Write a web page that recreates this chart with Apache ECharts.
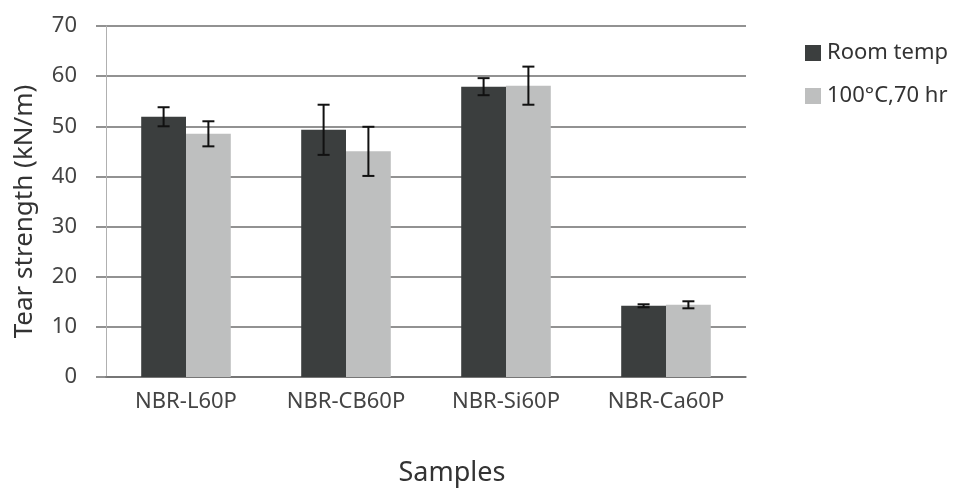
<!DOCTYPE html>
<html>
<head>
<meta charset="utf-8">
<script src="https://cdn.jsdelivr.net/npm/echarts@6/dist/echarts.min.js"></script>
<style>
  html, body { margin: 0; padding: 0; background: #fff; }
  #chart { width: 956px; height: 495px; }
</style>
</head>
<body>
<div id="chart"></div>
<script>
// Tear strength of NBR compounds, before and after ageing
const categories = ['NBR-L60P', 'NBR-CB60P', 'NBR-Si60P', 'NBR-Ca60P'];
const seriesNames = ['Room temp', '100°C,70 hr'];
const roomTemp = [51.9, 49.3, 57.9, 14.2];
const roomTempErr = [1.9, 5.0, 1.7, 0.3];
const aged = [48.5, 45.0, 58.1, 14.4];
const agedErr = [2.5, 4.9, 3.8, 0.7];
const yTicks = [0, 10, 20, 30, 40, 50, 60, 70];

const FONT = '"Noto Sans", "Open Sans", sans-serif';
const BAR_FRACTION = 0.28;   // share of a category band taken by each bar

// Error bar drawn as a vertical whisker with caps, shifted to sit on its bar
function errorRenderer(values, errors, side) {
  return function (params, api) {
    const i = api.value(0);
    const v = values[i], e = errors[i];
    const band = api.size([1, 0])[0];
    const dx = side * band * BAR_FRACTION / 2;
    const top = api.coord([i, v + e]);
    const bot = api.coord([i, v - e]);
    const x = top[0] + dx;
    const cap = 6;
    const style = { stroke: '#111', lineWidth: 2 };
    return {
      type: 'group',
      children: [
        { type: 'line', shape: { x1: x, y1: top[1], x2: x, y2: bot[1] }, style },
        { type: 'line', shape: { x1: x - cap, y1: top[1], x2: x + cap, y2: top[1] }, style },
        { type: 'line', shape: { x1: x - cap, y1: bot[1], x2: x + cap, y2: bot[1] }, style }
      ]
    };
  };
}

const chart = echarts.init(document.getElementById('chart'));
chart.setOption({
  animation: false,
  backgroundColor: '#fff',
  title: {
    text: 'Samples',
    left: 447,
    top: 455,
    textAlign: 'center',
    textStyle: { fontFamily: FONT, fontSize: 27, fontWeight: 'normal', color: '#333' }
  },
  legend: {
    orient: 'vertical',
    left: 800,
    top: 37,
    itemWidth: 16,
    itemHeight: 16,
    itemGap: 21,
    icon: 'rect',
    data: seriesNames,
    textStyle: { fontFamily: FONT, fontSize: 22, color: '#333', padding: [0, 0, 0, 1] }
  },
  grid: { left: 106, right: 210, top: 26, bottom: 118 },
  xAxis: {
    type: 'category',
    data: categories,
    axisLine: { show: true, lineStyle: { color: '#6e6e6e', width: 1.5 } },
    axisTick: { show: false },
    axisLabel: { fontFamily: FONT, fontSize: 22, color: '#444', margin: 14 }
  },
  yAxis: {
    type: 'value',
    min: 0,
    max: 70,
    interval: 10,
    name: 'Tear strength (kN/m)',
    nameLocation: 'middle',
    nameGap: 68,
    nameTextStyle: { fontFamily: FONT, fontSize: 26, color: '#333', padding: [0, 20, 0, 0] },
    axisLine: { show: true, lineStyle: { color: '#b0b0b0', width: 1 } },
    axisTick: { show: true, inside: false, length: 10, lineStyle: { color: '#6e6e6e', width: 1.5 } },
    splitLine: { show: true, lineStyle: { color: '#6e6e6e', width: 1.5 } },
    axisLabel: {
      fontFamily: FONT, fontSize: 22, color: '#444', margin: 29,
      formatter: v => (yTicks.indexOf(v) >= 0 ? String(v) : '')
    }
  },
  series: [
    {
      name: seriesNames[0],
      type: 'bar',
      data: roomTemp,
      barWidth: (BAR_FRACTION * 100) + '%',
      barGap: '0%',
      itemStyle: { color: '#3b3e3e' }
    },
    {
      name: seriesNames[1],
      type: 'bar',
      data: aged,
      barWidth: (BAR_FRACTION * 100) + '%',
      barGap: '0%',
      itemStyle: { color: '#bebfbf' }
    },
    {
      type: 'custom',
      data: categories.map((c, i) => [i, roomTemp[i]]),
      renderItem: errorRenderer(roomTemp, roomTempErr, -1),
      z: 10,
      silent: true
    },
    {
      type: 'custom',
      data: categories.map((c, i) => [i, aged[i]]),
      renderItem: errorRenderer(aged, agedErr, 1),
      z: 10,
      silent: true
    }
  ]
});
</script>
</body>
</html>
